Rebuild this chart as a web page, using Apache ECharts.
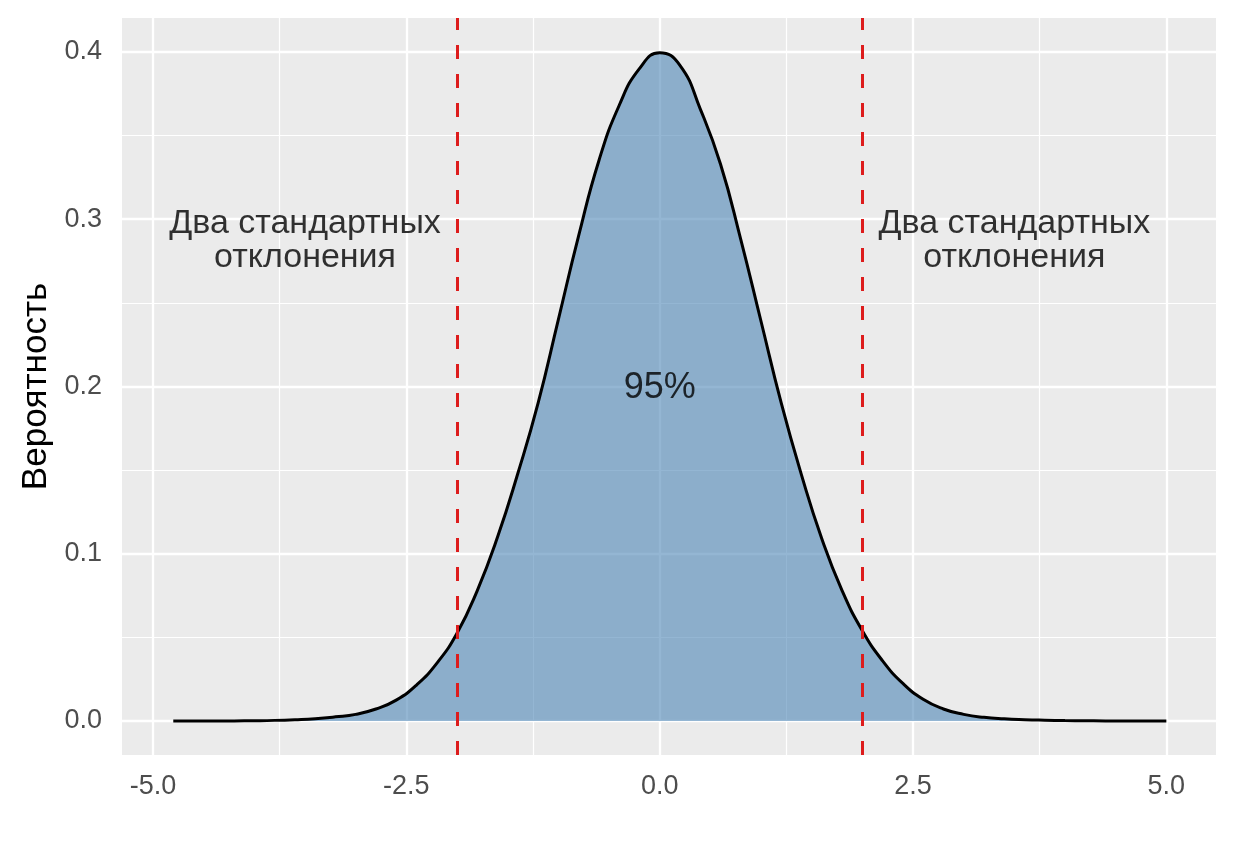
<!DOCTYPE html>
<html>
<head>
	<meta charset="UTF-8">
	<title>Вероятность</title>
	<script src="https://cdn.jsdelivr.net/npm/echarts@6/dist/echarts.min.js"></script>
	<style>
		html, body { margin: 0; padding: 0; background: #fff; }
		#container { width: 1234px; height: 864px; }
	</style>
</head>
<body>
<div id="container"></div>
<script>
	// плотность
	var xs = [-4.8, -4.6, -4.4, -4.2, -4.0, -3.8, -3.6, -3.4, -3.2, -3.0,
		-2.8, -2.6, -2.4, -2.2, -2.0, -1.8, -1.6, -1.4, -1.2, -1.0,
		-0.8, -0.6, -0.4, -0.2, 0.0, 0.2, 0.4, 0.6, 0.8, 1.0,
		1.2, 1.4, 1.6, 1.8, 2.0, 2.2, 2.4, 2.6, 2.8, 3.0,
		3.2, 3.4, 3.6, 3.8, 4.0, 4.2, 4.4, 4.6, 4.8, 5.0];
	var ys = [0.0000, 0.0000, 0.0000, 0.0001, 0.0002, 0.0004, 0.0008, 0.0014, 0.0025, 0.0040,
		0.0072, 0.0125, 0.0215, 0.0345, 0.0525, 0.0780, 0.1100, 0.1480, 0.1900, 0.2400,
		0.2900, 0.3350, 0.3680, 0.3900, 0.3995, 0.3920, 0.3660, 0.3330, 0.2880, 0.2390,
		0.1900, 0.1470, 0.1090, 0.0780, 0.0540, 0.0360, 0.0225, 0.0130, 0.0072, 0.0040,
		0.0022, 0.0013, 0.0008, 0.0005, 0.0003, 0.0002, 0.0001, 0.0001, 0.0000, 0.0000];

	var xTicks = [-5.0, -2.5, 0.0, 2.5, 5.0];
	var xMinor = [-3.75, -1.25, 1.25, 3.75];
	var yTicks = [0.0, 0.1, 0.2, 0.3, 0.4];
	var yMinor = [0.05, 0.15, 0.25, 0.35];
	var sdLines = [-2, 2];

	var notes = [
		{ text: 'Два стандартных\nотклонения', x: -3.5, y: 0.287, size: 34 },
		{ text: 'Два стандартных\nотклонения', x: 3.5, y: 0.287, size: 34 },
		{ text: '95%', x: 0.0, y: 0.199, size: 36 }
	];

	var font = '"Liberation Sans", Arial, Helvetica, sans-serif';

	var curve = xs.map(function (x, i) { return [x, ys[i]]; });

	function vLines(vals, width) {
		return vals.map(function (v) {
			return { xAxis: v, lineStyle: { color: '#ffffff', width: width, type: 'solid' } };
		});
	}
	function hLines(vals, width) {
		return vals.map(function (v) {
			return { yAxis: v, lineStyle: { color: '#ffffff', width: width, type: 'solid' } };
		});
	}

	var dom = document.getElementById('container');
	var myChart = echarts.init(dom, null, { renderer: 'canvas' });

	var option = {
		animation: false,
		backgroundColor: '#ffffff',
		grid: {
			left: 122,
			top: 18,
			width: 1094,
			height: 737,
			show: true,
			backgroundColor: '#EBEBEB',
			borderWidth: 0
		},
		xAxis: {
			type: 'value',
			min: -5.306,
			max: 5.49,
			axisLine: { show: false },
			splitLine: { show: false },
			axisTick: {
				show: true,
				customValues: xTicks,
				length: 8,
				lineStyle: { color: '#333333', width: 2 }
			},
			axisLabel: {
				customValues: xTicks,
				margin: 18,
				fontSize: 27,
				fontFamily: font,
				color: '#4D4D4D',
				formatter: function (v) { return v.toFixed(1); }
			}
		},
		yAxis: {
			type: 'value',
			min: -0.0203,
			max: 0.4203,
			name: 'Вероятность',
			nameLocation: 'middle',
			nameGap: 67,
			nameTextStyle: { fontSize: 35, fontFamily: font, color: '#000000' },
			axisLine: { show: false },
			splitLine: { show: false },
			axisTick: {
				show: true,
				customValues: yTicks,
				length: 8,
				lineStyle: { color: '#333333', width: 2 }
			},
			axisLabel: {
				customValues: yTicks,
				margin: 20,
				fontSize: 27,
				fontFamily: font,
				color: '#4D4D4D',
				formatter: function (v) { return v.toFixed(1); }
			}
		},
		series: [
			{
				// сетка
				type: 'line',
				data: [],
				z: 1,
				silent: true,
				markLine: {
					z: 1,
					silent: true,
					symbol: ['none', 'none'],
					label: { show: false },
					animation: false,
					data: vLines(xMinor, 1.2).concat(hLines(yMinor, 1.2))
						.concat(vLines(xTicks, 2.3)).concat(hLines(yTicks, 2.3))
				}
			},
			{
				name: 'Плотность',
				type: 'line',
				data: curve,
				z: 3,
				smooth: 0.5,
				showSymbol: false,
				lineStyle: { color: '#000000', width: 3 },
				areaStyle: { color: 'rgba(70,130,180,0.58)', opacity: 1 }
			},
			{
				type: 'line',
				data: [],
				z: 5,
				markLine: {
					z: 5,
					silent: true,
					symbol: ['none', 'none'],
					label: { show: false },
					animation: false,
					data: sdLines.map(function (v) {
						return { xAxis: v, lineStyle: { color: '#DD1C1C', width: 3, type: [14, 15] } };
					})
				}
			},
			{
				type: 'scatter',
				z: 6,
				symbolSize: 0,
				silent: true,
				data: notes.map(function (n) {
					return { value: [n.x, n.y], text: n.text, label: { fontSize: n.size } };
				}),
				label: {
					show: true,
					position: 'inside',
					align: 'center',
					verticalAlign: 'middle',
					lineHeight: 34,
					fontFamily: font,
					color: '#000000',
					formatter: function (p) { return p.data.text; }
				}
			}
		]
	};

	if (option && typeof option === 'object') {
		myChart.setOption(option, true);
	}
</script>
</body>
</html>
